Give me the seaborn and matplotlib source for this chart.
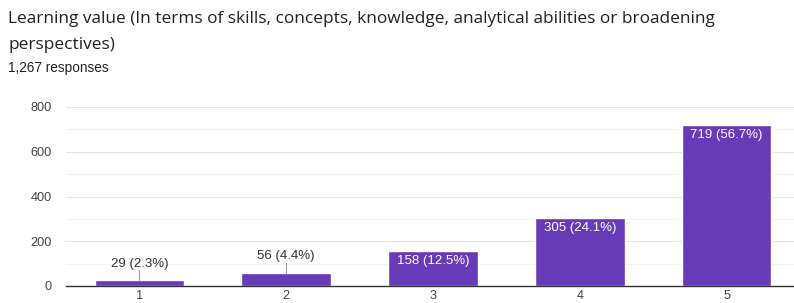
import numpy as np
import pandas as pd
import matplotlib
matplotlib.use("Agg")
import matplotlib.pyplot as plt
import seaborn as sns

# data
ratings = ["1", "2", "3", "4", "5"]
counts = [29, 56, 158, 305, 719]
percents = [2.3, 4.4, 12.5, 24.1, 56.7]
total = 1267

df = pd.DataFrame({"rating": ratings, "count": counts})

sns.set_style("white")
plt.rcParams["font.family"] = ["Liberation Sans", "DejaVu Sans"]

fig = plt.figure(figsize=(7.94, 3.03), dpi=100)
ax = fig.add_axes([66 / 794, 17 / 303, 734 / 794, 179 / 303])

sns.barplot(data=df, x="rating", y="count", color="#673ab7", saturation=1,
            width=0.61, ax=ax, zorder=3)

ax.set_xlim(-0.5, 4.5)
ax.set_ylim(0, 800)
ax.set_yticks([0, 200, 400, 600, 800])
ax.set_yticks([100, 300, 500, 700], minor=True)
ax.grid(axis="y", which="major", color="#e6e6e6", lw=0.8, zorder=0)
ax.grid(axis="y", which="minor", color="#f3f3f3", lw=0.8, zorder=0)
ax.tick_params(axis="both", which="both", length=0, labelsize=9.2,
               labelcolor="#444444")
ax.tick_params(axis="y", pad=10)
ax.tick_params(axis="x", pad=3)
ax.set_xlabel("")
ax.set_ylabel("")
for s in ["left", "right", "top"]:
    ax.spines[s].set_visible(False)
ax.spines["bottom"].set_color("#333333")
ax.spines["bottom"].set_linewidth(1.0)
ax.spines["bottom"].set_zorder(4)

for i, (c, p) in enumerate(zip(counts, percents)):
    label = f"{c} ({p}%)"
    if c < 100:
        ytxt = 98 if i == 0 else 132
        ax.plot([i, i], [c, ytxt - 28], color="#999999", lw=0.8, zorder=4)
        ax.text(i, ytxt, label, ha="center", va="center", fontsize=9.5,
                color="#333333", zorder=5)
    else:
        ax.annotate(label, (i, c), xytext=(0, -3), textcoords="offset points",
                    ha="center", va="top", fontsize=9.5, color="white", zorder=5)

fig.text(8 / 794, 1 - 19 / 303,
         "Learning value (In terms of skills, concepts, knowledge, analytical abilities or broadening",
         fontsize=12.4, color="#202124", family=["Open Sans", "DejaVu Sans"], va="center")
fig.text(8 / 794, 1 - 45 / 303, "perspectives)",
         fontsize=12.4, color="#202124", family=["Open Sans", "DejaVu Sans"], va="center")
fig.text(8 / 794, 1 - 68 / 303, f"{total:,} responses",
         fontsize=9.8, color="#202124", va="center")

fig.savefig("out.png", dpi=100)
